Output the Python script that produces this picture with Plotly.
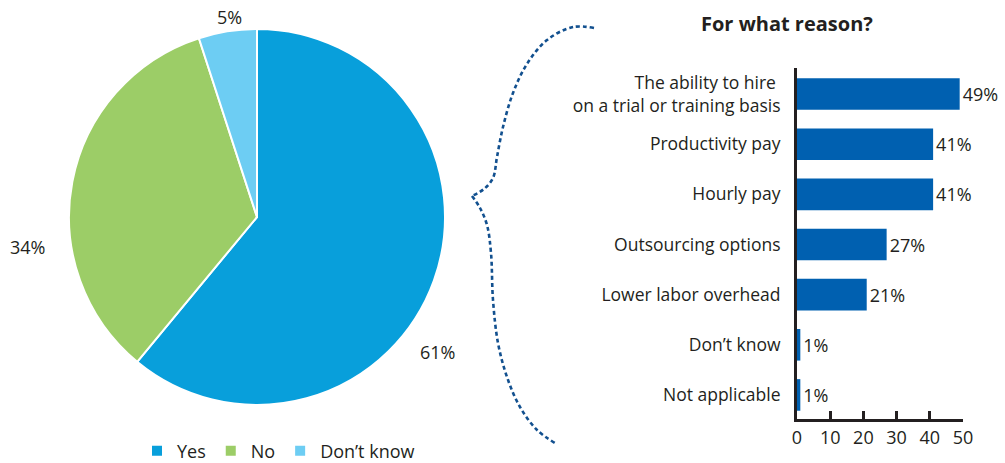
import plotly.graph_objects as go

# Pie: share of respondents
pie_labels = ["Yes", "No", "Don\u2019t know"]
pie_values = [61, 34, 5]
pie_colors = ["#089FDB", "#9CCD67", "#6DCDF3"]

# Bars: reasons given
reasons = [
    "The ability to hire <br>on a trial or training basis",
    "Productivity pay",
    "Hourly pay",
    "Outsourcing options",
    "Lower labor overhead",
    "Don\u2019t know",
    "Not applicable",
]
reason_values = [49, 41, 41, 27, 21, 1, 1]
x_ticks = [0, 10, 20, 30, 40, 50]

W, H = 1005, 463
FONT = "Open Sans"
INK = "#231F20"
BAR = "#0060B0"
BRACE = "#12508F"


def px(x):
    return x / W


def py(y):
    return 1 - y / H


fig = go.Figure()

fig.add_trace(go.Pie(
    labels=pie_labels,
    values=pie_values,
    marker=dict(colors=pie_colors, line=dict(color="white", width=2)),
    sort=False,
    direction="clockwise",
    rotation=0,
    textinfo="none",
    hoverinfo="label+percent",
    domain=dict(x=[px(69), px(445)], y=[py(405), py(29)]),
    showlegend=True,
))

fig.add_trace(go.Bar(
    x=reason_values,
    y=reasons,
    orientation="h",
    marker=dict(color=BAR, line=dict(width=0)),
    width=0.63,
    text=[f"{v}%" for v in reason_values],
    textposition="outside",
    textfont=dict(family=FONT, size=18, color=INK),
    cliponaxis=False,
    showlegend=False,
    xaxis="x", yaxis="y",
))

# Dotted curly brace linking the "Yes" slice to the breakdown
brace_upper = [(594, 28), (573, 27), (547, 40), (527, 64), (513, 93),
               (503, 127), (497, 157), (493, 178), (484, 189), (472, 196)]
brace_lower = [(472, 196), (480, 208), (487, 225), (491, 253), (493, 300),
               (498, 343), (507, 377), (520, 407), (537, 430), (555, 443)]
for seg in (brace_upper, brace_lower):
    fig.add_trace(go.Scatter(
        x=[p[0] for p in seg], y=[p[1] for p in seg],
        mode="lines",
        line=dict(color=BRACE, width=2.6, dash="4px,3px", shape="spline", smoothing=1),
        hoverinfo="skip", showlegend=False,
        xaxis="x2", yaxis="y2",
    ))

annotations = [
    dict(text="For what reason?", x=px(787), y=py(24), xref="paper", yref="paper",
         xanchor="center", yanchor="middle", showarrow=False,
         font=dict(family=FONT, size=20, color=INK, weight="bold")),
]
# Pie value labels
pie_label_pos = [(437, 352), (27, 247), (229, 17)]
for v, (lx, ly) in zip(pie_values, pie_label_pos):
    annotations.append(dict(
        text=f"{v}%", x=px(lx), y=py(ly), xref="paper", yref="paper",
        xanchor="center", yanchor="middle", showarrow=False,
        font=dict(family=FONT, size=18, color=INK),
    ))

fig.update_layout(
    width=W, height=H,
    margin=dict(l=0, r=0, t=0, b=0, autoexpand=False),
    paper_bgcolor="white",
    plot_bgcolor="rgba(0,0,0,0)",
    font=dict(family=FONT, size=18, color=INK),
    xaxis=dict(
        domain=[px(797), px(963)], range=[0, 50],
        tickvals=x_ticks, ticktext=[str(t) for t in x_ticks],
        ticks="inside", ticklen=8, tickwidth=3, tickcolor=INK,
        showline=True, linecolor=INK, linewidth=3,
        showgrid=False, zeroline=False, automargin=False,
        tickfont=dict(family=FONT, size=18, color=INK),
        anchor="y", fixedrange=True,
    ),
    yaxis=dict(
        domain=[py(419), py(68)],
        type="category", categoryorder="array", categoryarray=reasons,
        range=[6.48, -0.52],
        showline=True, linecolor=INK, linewidth=3,
        showgrid=False, zeroline=False, ticks="", automargin=False,
        ticklabelstandoff=10,
        tickfont=dict(family=FONT, size=17.5, color=INK),
        anchor="x", fixedrange=True,
    ),
    xaxis2=dict(domain=[0, 1], range=[0, W], visible=False, anchor="y2",
                automargin=False, fixedrange=True),
    yaxis2=dict(domain=[0, 1], range=[H, 0], visible=False, anchor="x2",
                automargin=False, fixedrange=True),
    legend=dict(
        orientation="h", x=px(137), y=py(451), yanchor="middle", xanchor="left",
        font=dict(family=FONT, size=18, color=INK),
        itemwidth=30, bgcolor="rgba(0,0,0,0)",
    ),
    annotations=annotations,
)

fig.write_html("out.html")
